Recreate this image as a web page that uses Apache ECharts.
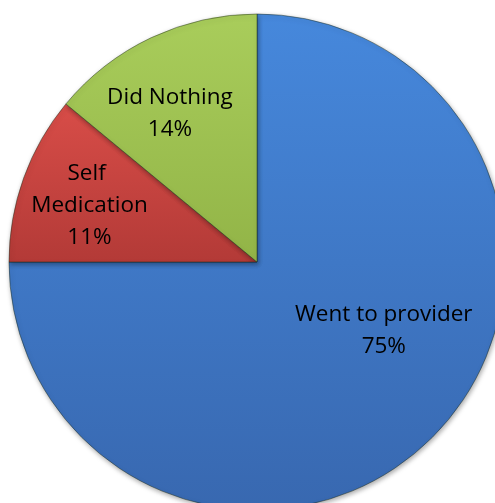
<!DOCTYPE html>
<html>
<head>
<meta charset="utf-8">
<style>
  html, body { margin: 0; padding: 0; background: #ffffff; }
  #chart { width: 495px; height: 503px; }
</style>
<script src="https://cdn.jsdelivr.net/npm/echarts@6/dist/echarts.min.js"></script>
</head>
<body>
<div id="chart"></div>
<script>
// Where people went for care (share of respondents, %)
const categories = ['Went to provider', 'Self Medication', 'Did Nothing'];
const shares = [75, 11, 14];

// Slice fills: light tone at the top, deeper tone at the bottom
const sliceTones = [
  ['#4688dc', '#3868b0'],
  ['#d84d48', '#b33a37'],
  ['#a9cd5b', '#92b447']
];

// Small nudges that move each label off the sector's mid-radius point
const labelNudge = [
  [37, -21],
  [-48, -13],
  [-33, -33]
];

const chart = echarts.init(document.getElementById('chart'), null, { renderer: 'canvas' });

const data = categories.map((name, i) => ({
  name: name,
  value: shares[i],
  itemStyle: {
    color: {
      type: 'linear', x: 0, y: 0, x2: 0, y2: 1,
      colorStops: [
        { offset: 0, color: sliceTones[i][0] },
        { offset: 1, color: sliceTones[i][1] }
      ]
    }
  },
  label: name === 'Self Medication' ? { width: 130, overflow: 'break' } : {}
}));

chart.setOption({
  animation: false,
  series: [{
    type: 'pie',
    center: [257, 262],
    radius: 248,
    startAngle: 90,
    clockwise: true,
    silent: true,
    data: data,
    itemStyle: {
      borderColor: 'rgba(25, 40, 20, 0.45)',
      borderWidth: 1,
      shadowBlur: 5,
      shadowColor: 'rgba(0, 0, 0, 0.35)',
      shadowOffsetX: 1,
      shadowOffsetY: 2
    },
    label: {
      show: true,
      position: 'inside',
      formatter: '{b}\n{c}%',
      fontFamily: 'Open Sans',
      fontSize: 22.5,
      lineHeight: 32,
      color: '#000000',
      align: 'center'
    },
    labelLine: { show: false },
    labelLayout: function (params) {
      const n = labelNudge[params.dataIndex];
      return { dx: n[0], dy: n[1] };
    }
  }]
});
</script>
</body>
</html>
